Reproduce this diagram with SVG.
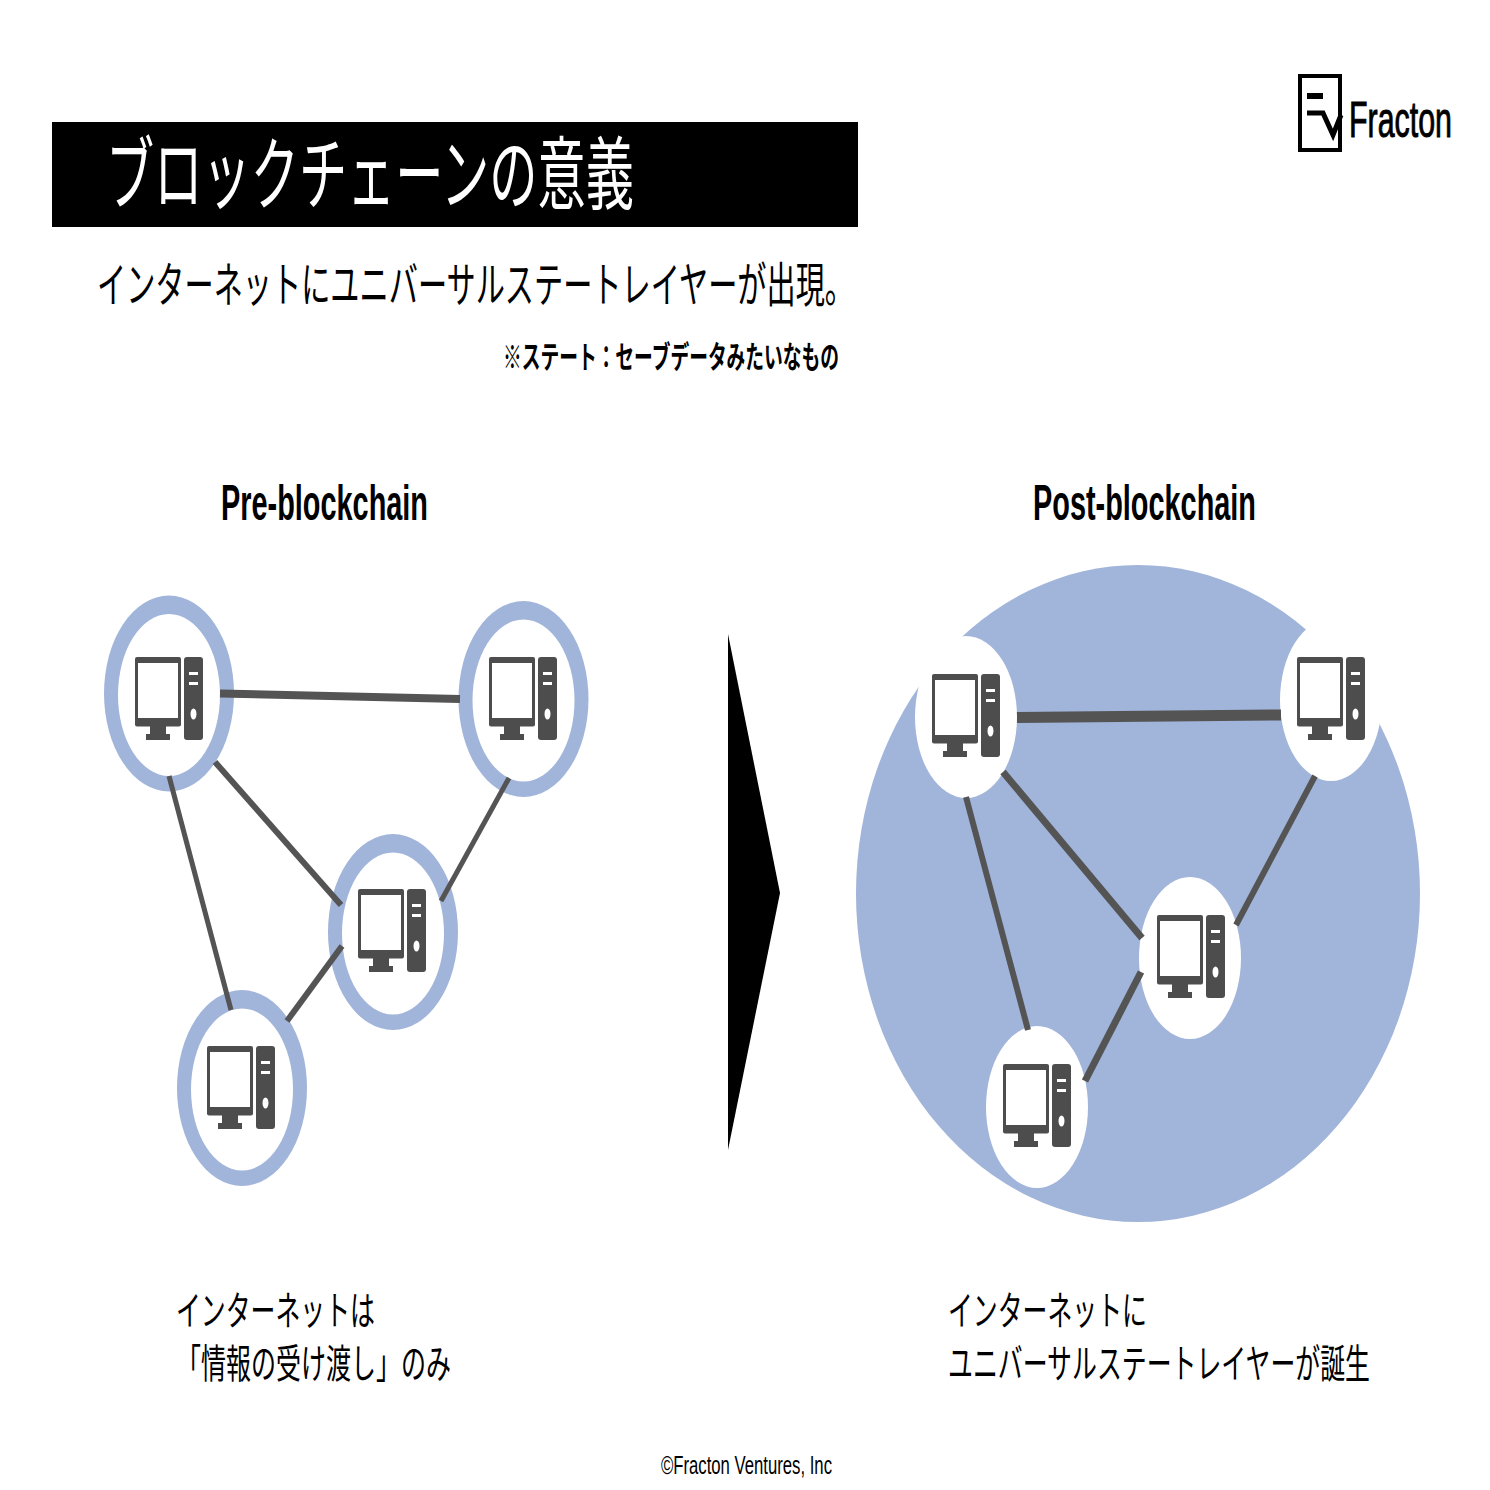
<svg xmlns="http://www.w3.org/2000/svg" width="1490" height="1490" viewBox="0 0 1490 1490">
<style>
text{font-family:"Noto Sans CJK JP","Liberation Sans",sans-serif;fill:#000}
.lat{font-family:"Liberation Sans","Noto Sans",sans-serif}
.ring{fill:#a1b4da}
.hole{fill:#fff}
.c{stroke:#545454;fill:none}
.ic{fill:#4d4d4d}
</style>
<defs>
<g id="pc">
<rect class="ic" x="0" y="0" width="46" height="69.5" rx="2"/>
<rect x="3" y="6" width="40" height="55" fill="#fff"/>
<rect class="ic" x="15" y="69" width="16" height="8"/>
<rect class="ic" x="11" y="77" width="24" height="6"/>
<rect class="ic" x="49" y="0" width="19" height="83" rx="3"/>
<rect x="54" y="15" width="9" height="3" fill="#fff"/>
<rect x="54" y="25" width="9" height="3" fill="#fff"/>
<ellipse cx="58.500" cy="57" rx="3" ry="5.500" fill="#fff"/>
</g>
</defs>
<rect width="1490" height="1490" fill="#fff"/>
<g id="header">
<rect x="52" y="122" width="806" height="105" fill="#000"/>
<text x="106" y="203" font-size="80" font-weight="400" style="fill:#fff" textLength="528" lengthAdjust="spacingAndGlyphs">ブロックチェーンの意義</text>
<text x="97" y="302" font-size="48" font-weight="400" textLength="757" lengthAdjust="spacingAndGlyphs">インターネットにユニバーサルステートレイヤーが出現。</text>
<text x="503" y="368" font-size="31" font-weight="700" textLength="336" lengthAdjust="spacingAndGlyphs">※ステート：セーブデータみたいなもの</text>
</g>
<g id="logo">
<rect x="1300" y="76" width="40" height="74" fill="none" stroke="#000" stroke-width="4"/>
<rect x="1307" y="93" width="16" height="6"/>
<path d="M1307 113H1323L1333 135L1341 115" fill="none" stroke="#000" stroke-width="5"/>
<text class="lat" x="1349" y="137" font-size="50" stroke="#000" stroke-width="1" textLength="103" lengthAdjust="spacingAndGlyphs">Fracton</text>
</g>
<text class="lat" x="221" y="520" font-size="50" font-weight="700" textLength="207" lengthAdjust="spacingAndGlyphs">Pre-blockchain</text>
<text class="lat" x="1033" y="520" font-size="50" font-weight="700" textLength="223" lengthAdjust="spacingAndGlyphs">Post-blockchain</text>
<polygon id="arrow" points="728,634 780,893 728,1150" fill="#000"/>
<ellipse id="layer" class="ring" cx="1138" cy="893.500" rx="282" ry="328.500"/>
<g id="pre-node-1"><ellipse class="ring" cx="169" cy="693.500" rx="65" ry="98"/><ellipse class="hole" cx="169" cy="695" rx="51" ry="81"/><use href="#pc" x="135" y="657"/></g>
<g id="pre-node-2"><ellipse class="ring" cx="523.500" cy="699" rx="65" ry="98"/><ellipse class="hole" cx="523.500" cy="700.500" rx="51" ry="81"/><use href="#pc" x="489" y="657"/></g>
<g id="pre-node-3"><ellipse class="ring" cx="393" cy="932" rx="65" ry="98"/><ellipse class="hole" cx="393" cy="933.500" rx="51" ry="81"/><use href="#pc" x="358" y="889"/></g>
<g id="pre-node-4"><ellipse class="ring" cx="242" cy="1088" rx="65" ry="98"/><ellipse class="hole" cx="242" cy="1089.500" rx="51" ry="81"/><use href="#pc" x="207" y="1046"/></g>
<g id="post-node-1"><ellipse class="hole" cx="966" cy="717" rx="51" ry="81"/><use href="#pc" x="932" y="674"/></g>
<g id="post-node-2"><ellipse class="hole" cx="1331" cy="700" rx="51" ry="81"/><use href="#pc" x="1297" y="657"/></g>
<g id="post-node-3"><ellipse class="hole" cx="1190" cy="958" rx="51" ry="81"/><use href="#pc" x="1157" y="915"/></g>
<g id="post-node-4"><ellipse class="hole" cx="1037" cy="1107" rx="51" ry="81"/><use href="#pc" x="1003" y="1064"/></g>
<g id="connectors">
<line class="c" stroke-width="8" x1="220" y1="693.500" x2="460" y2="699"/>
<line class="c" stroke-width="6" x1="215" y1="762" x2="341" y2="905"/>
<line class="c" stroke-width="5" x1="169" y1="776" x2="231" y2="1010"/>
<line class="c" stroke-width="5" x1="509" y1="778" x2="441" y2="901"/>
<line class="c" stroke-width="6" x1="342" y1="946" x2="287" y2="1021"/>
<line class="c" stroke-width="11" x1="1017" y1="717.500" x2="1281" y2="715"/>
<line class="c" stroke-width="7" x1="1003" y1="772" x2="1142" y2="938"/>
<line class="c" stroke-width="6" x1="966" y1="797" x2="1028" y2="1030"/>
<line class="c" stroke-width="6" x1="1315" y1="776" x2="1236" y2="925"/>
<line class="c" stroke-width="7" x1="1141" y1="972" x2="1085" y2="1081"/>
</g>
<g id="captions">
<text x="176" y="1325" font-size="40" font-weight="400" textLength="199" lengthAdjust="spacingAndGlyphs">インターネットは</text>
<text x="176" y="1378" font-size="40" font-weight="400" textLength="275" lengthAdjust="spacingAndGlyphs">「情報の受け渡し」のみ</text>
<text x="948" y="1325" font-size="40" font-weight="400" textLength="199" lengthAdjust="spacingAndGlyphs">インターネットに</text>
<text x="948" y="1378" font-size="40" font-weight="400" textLength="422" lengthAdjust="spacingAndGlyphs">ユニバーサルステートレイヤーが誕生</text>
</g>
<text class="lat" x="661" y="1474" font-size="26" textLength="171" lengthAdjust="spacingAndGlyphs">©Fracton Ventures, Inc</text>
</svg>
